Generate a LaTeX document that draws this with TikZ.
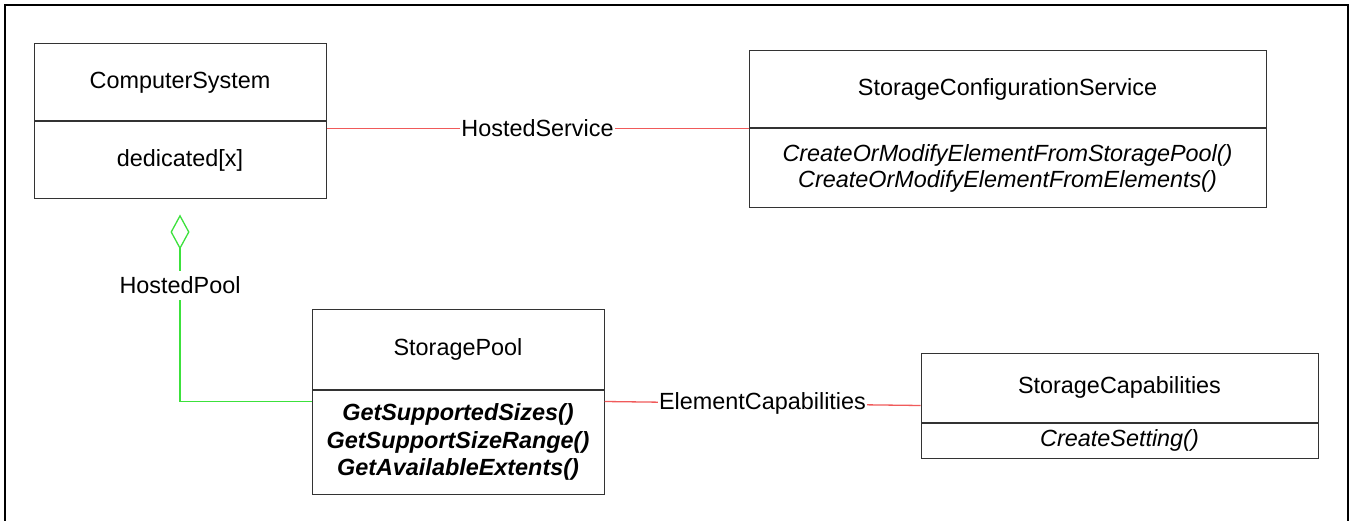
\documentclass[tikz,border=0pt]{standalone}
\usepackage{fontspec}
\setmainfont{Liberation Sans}
\usetikzlibrary{arrows.meta}
\definecolor{assocred}{RGB}{240,90,90}
\definecolor{agggreen}{RGB}{60,225,60}

\begin{document}
\begin{tikzpicture}[x=1pt, y=-1pt,
    every node/.style={font=\fontsize{23.4}{27}\selectfont},
    classbox/.style={draw=black!80, line width=1pt, inner sep=0pt, align=center},
    assoc/.style={draw=assocred, line width=1.3pt},
    agg/.style={draw=agggreen, line width=1.3pt, -{Diamond[open, length=35pt, width=19pt]}},
    lbl/.style={fill=white, inner xsep=1pt, inner ysep=6pt}]
    \useasboundingbox (0,0) rectangle (1351,521);
    \draw[line width=2.5pt] (5,521) -- (5,5) -- (1348,5) -- (1348,521);

    \node[classbox, minimum width=292, minimum height=77] (csh) at (180,82.5) {ComputerSystem};
    \node[classbox, minimum width=292, minimum height=77, anchor=north] (csb) at (csh.south) {dedicated[x]};

    \node[classbox, minimum width=517, minimum height=77] (scsh) at (1007.5,89.5) {StorageConfigurationService};
    \node[classbox, minimum width=517, minimum height=79, anchor=north, font=\fontsize{23.4}{26}\selectfont\itshape] (scsb) at (scsh.south)
        {CreateOrModifyElementFromStoragePool()\\CreateOrModifyElementFromElements()};

    \node[classbox, minimum width=292, minimum height=80] (sph) at (458,349) {StoragePool};
    \node[classbox, minimum width=292, minimum height=104, anchor=north, font=\fontsize{23.4}{27.5}\selectfont\bfseries\itshape] (spb) at (sph.south)
        {GetSupportedSizes()\\GetSupportSizeRange()\\GetAvailableExtents()};

    \node[classbox, minimum width=397, minimum height=69] (sch) at (1119.5,387.5) {StorageCapabilities};
    \node[classbox, minimum width=397, minimum height=35, anchor=north, font=\fontsize{23.4}{27}\selectfont\itshape] (scb) at (sch.south) {CreateSetting()};

    \draw[assoc] ([yshift=-7pt]csb.north east) -- node[lbl] {HostedService} (scsh.south west);
    \draw[assoc] ([yshift=-12pt]spb.north east) -- node[lbl] {ElementCapabilities} ([yshift=17pt]sch.south west);
    \draw[agg] ([yshift=-12pt]spb.north west) -| node[pos=0.81, lbl] {HostedPool} ([yshift=-15pt]csb.south);
\end{tikzpicture}
\end{document}
